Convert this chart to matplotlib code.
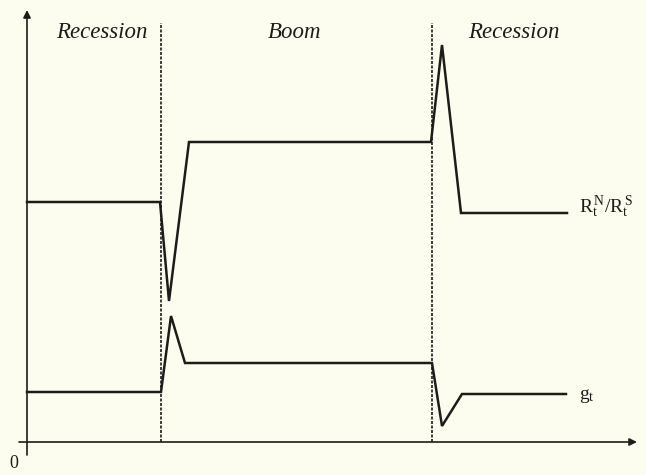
import matplotlib
matplotlib.use('Agg')
import matplotlib.pyplot as plt

plt.rcParams['font.family'] = ['Liberation Serif', 'DejaVu Serif']
plt.rcParams['mathtext.fontset'] = 'stix'

BG = '#fdfdef'
INK = '#1c1c1a'

# relative interest rate R_t^N / R_t^S
t_ratio = [0.0, 13.3, 14.2, 16.2, 40.4, 41.5, 43.4, 54.0]
v_ratio = [24.0, 24.0, 14.1, 30.0, 30.0, 39.7, 22.9, 22.9]

# growth rate g_t
t_growth = [0.0, 13.4, 14.4, 15.8, 40.5, 41.5, 43.5, 53.9]
v_growth = [5.0, 5.0, 12.6, 7.9, 7.9, 1.6, 4.8, 4.8]

# regime boundaries and labels
regime_breaks = [13.4, 40.5]
regime_names = ['Recession', 'Boom', 'Recession']
regime_centres = [7.5, 26.8, 48.7]

fig = plt.figure(figsize=(6.46, 4.75), dpi=100, facecolor=BG)
ax = fig.add_axes([0, 0, 1, 1])
ax.set_facecolor(BG)
ax.set_xlim(-2.7, 61.9)
ax.set_ylim(-3.3, 44.2)
ax.axis('off')

# axes with arrow heads
ax.annotate('', xy=(61.0, 0), xytext=(-0.8, 0),
            arrowprops=dict(arrowstyle='-|>', color=INK, lw=1.2,
                            mutation_scale=11, shrinkA=0, shrinkB=0))
ax.annotate('', xy=(0, 43.2), xytext=(0, -1.3),
            arrowprops=dict(arrowstyle='-|>', color=INK, lw=1.2,
                            mutation_scale=11, shrinkA=0, shrinkB=0))
ax.text(-1.3, -2.2, '0', fontsize=13, color=INK, ha='center', va='center')

for b in regime_breaks:
    ax.plot([b, b], [0, 41.9], color=INK, lw=1.2, ls=(0, (1.8, 0.9)))

for name, c in zip(regime_names, regime_centres):
    ax.text(c, 41.0, name, fontsize=16.5, style='italic', color=INK,
            ha='center', va='center')

ax.plot(t_ratio, v_ratio, color=INK, lw=1.8, solid_joinstyle='miter')
ax.plot(t_growth, v_growth, color=INK, lw=1.8, solid_joinstyle='miter')

ax.text(55.2, 23.5, r'$\mathregular{R_t^{\,N}/R_t^{\,S}}$', fontsize=14,
        color=INK, ha='left', va='center')
ax.text(55.2, 4.6, r'$\mathregular{g_t}$', fontsize=14,
        color=INK, ha='left', va='center')

fig.savefig('out.png', dpi=100, facecolor=BG)
